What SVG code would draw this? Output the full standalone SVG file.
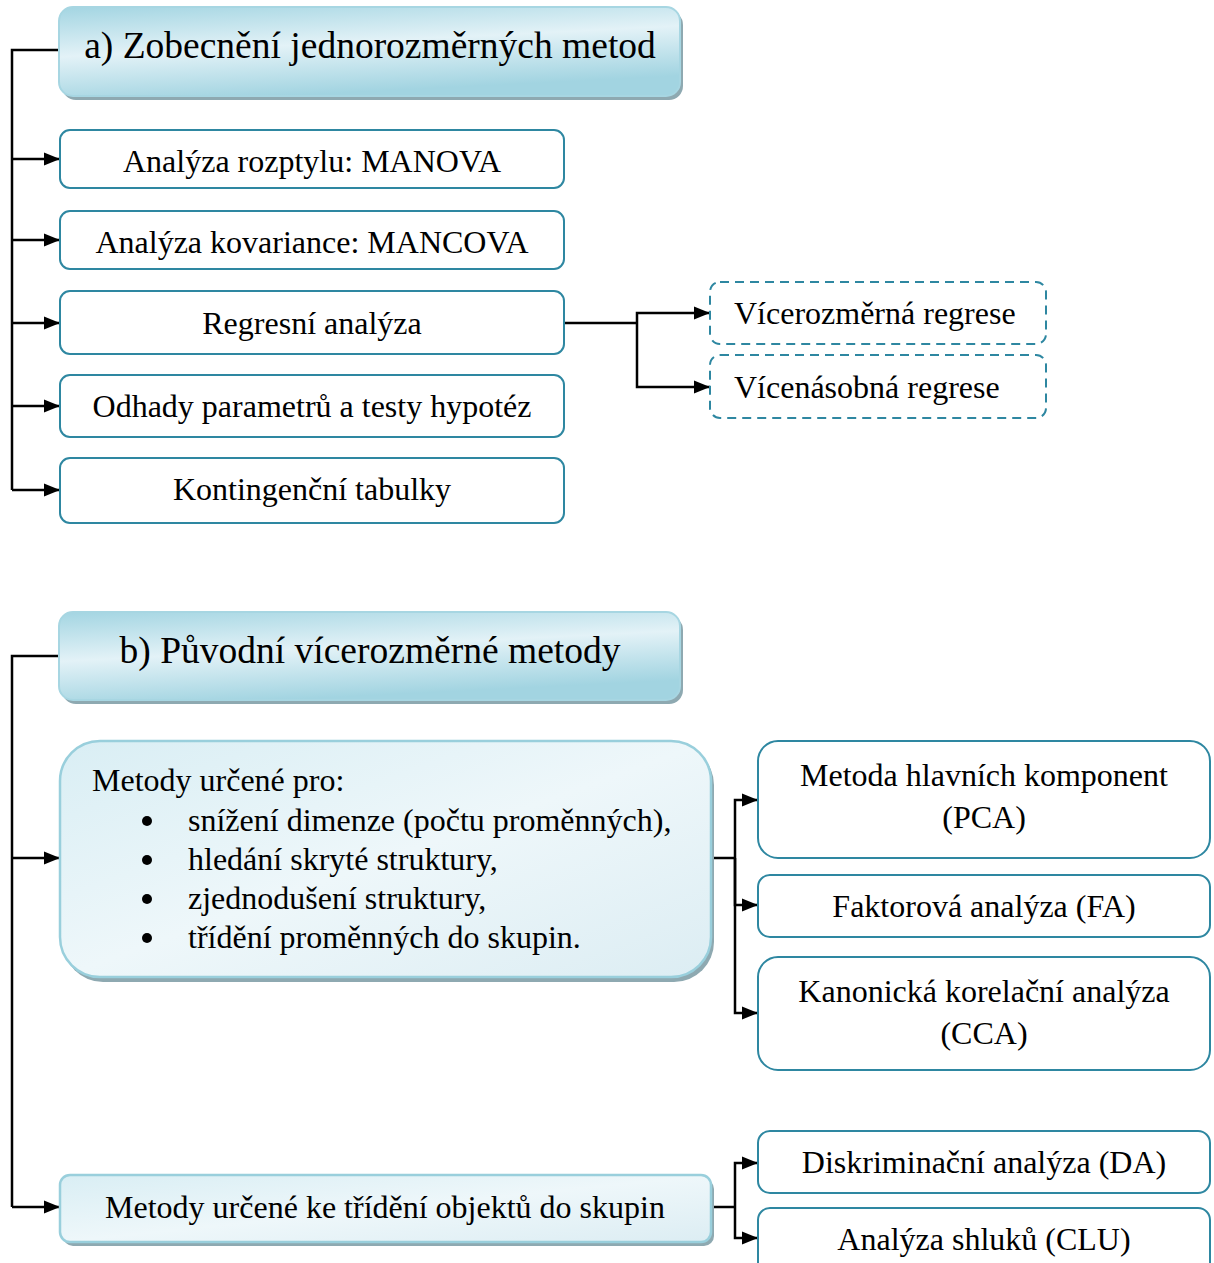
<svg xmlns="http://www.w3.org/2000/svg" width="1214" height="1263" viewBox="0 0 1214 1263">
<defs>
<linearGradient id="hdr" x1="0" y1="0" x2="0.35" y2="1">
<stop offset="0" stop-color="#a3d5e2"/>
<stop offset="0.5" stop-color="#e3f2f7"/>
<stop offset="1" stop-color="#a2d4e1"/>
</linearGradient>
<linearGradient id="lt" x1="0" y1="0" x2="1" y2="1">
<stop offset="0" stop-color="#d9eef4"/>
<stop offset="0.5" stop-color="#eef7fa"/>
<stop offset="1" stop-color="#dcedf3"/>
</linearGradient>
<marker id="ar" markerWidth="16" markerHeight="16" refX="16" refY="8" orient="auto" markerUnits="userSpaceOnUse" viewBox="0 0 16 16">
<path d="M0,1.5 L16,8 L0,14.5 Z" fill="#000"/>
</marker>
</defs>
<style>
text{font-family:"Liberation Serif","Times New Roman",serif;fill:#000}
.h{font-size:37.5px}
.t{font-size:32px}
.hdr{fill:url(#hdr);stroke:#a7d6e2;stroke-width:2}
.sh{fill:#8ea9b1}
.box{fill:#fff;stroke:#2e87a1;stroke-width:2}
.dash{fill:#fff;stroke:#2e87a1;stroke-width:2;stroke-dasharray:9 6}
.lt{fill:url(#lt);stroke:#99cfdc;stroke-width:2.5}
.c{fill:none;stroke:#000;stroke-width:2.5}
.ca{fill:none;stroke:#000;stroke-width:2.5;marker-end:url(#ar)}
</style>
<g id="connectors">
<path class="c" d="M60,50 H12 V490"/>
<path class="ca" d="M12,159 H60"/>
<path class="ca" d="M12,240 H60"/>
<path class="ca" d="M12,323 H60"/>
<path class="ca" d="M12,406 H60"/>
<path class="ca" d="M12,490 H60"/>
<path class="c" d="M564,323 H637"/>
<path class="ca" d="M637,323 V313 H710"/>
<path class="ca" d="M637,323 V387 H710"/>
<path class="c" d="M60,656 H12 V1207"/>
<path class="ca" d="M12,858 H60"/>
<path class="ca" d="M12,1207 H60"/>
<path class="c" d="M711,858 H735"/>
<path class="ca" d="M735,858 V800 H758"/>
<path class="ca" d="M735,858 V905 H758"/>
<path class="ca" d="M735,858 V1013 H758"/>
<path class="c" d="M711,1207 H735"/>
<path class="ca" d="M735,1207 V1163 H758"/>
<path class="ca" d="M735,1207 V1238 H758"/>
</g>
<g id="hdr-a">
<rect class="sh" x="62" y="11" width="621" height="89" rx="14"/>
<rect class="hdr" x="59" y="7" width="621" height="89" rx="14"/>
<text class="h" x="370" y="58" text-anchor="middle">a) Zobecnění jednorozměrných metod</text>
</g>
<g id="n-manova">
<rect class="box" x="60" y="130" width="504" height="58" rx="10"/>
<text class="t" x="312" y="172" text-anchor="middle">Analýza rozptylu: MANOVA</text>
</g>
<g id="n-mancova">
<rect class="box" x="60" y="211" width="504" height="58" rx="10"/>
<text class="t" x="312" y="253" text-anchor="middle">Analýza kovariance: MANCOVA</text>
</g>
<g id="n-regrese">
<rect class="box" x="60" y="291" width="504" height="63" rx="10"/>
<text class="t" x="312" y="334" text-anchor="middle">Regresní analýza</text>
</g>
<g id="n-odhady">
<rect class="box" x="60" y="375" width="504" height="62" rx="10"/>
<text class="t" x="312" y="417" text-anchor="middle">Odhady parametrů a testy hypotéz</text>
</g>
<g id="n-kont">
<rect class="box" x="60" y="458" width="504" height="65" rx="10"/>
<text class="t" x="312" y="500" text-anchor="middle">Kontingenční tabulky</text>
</g>
<g id="n-vicerozm">
<rect class="dash" x="710" y="282" width="336" height="62" rx="10"/>
<text class="t" x="734" y="324">Vícerozměrná regrese</text>
</g>
<g id="n-vicenas">
<rect class="dash" x="710" y="355" width="336" height="63" rx="10"/>
<text class="t" x="734" y="398">Vícenásobná regrese</text>
</g>
<g id="hdr-b">
<rect class="sh" x="62" y="616" width="621" height="88" rx="14"/>
<rect class="hdr" x="59" y="612" width="621" height="88" rx="14"/>
<text class="h" x="370" y="663" text-anchor="middle">b) Původní vícerozměrné metody</text>
</g>
<g id="n-metody-pro">
<rect class="sh" x="63" y="745" width="651" height="237" rx="40"/>
<rect class="lt" x="60" y="741" width="651" height="236" rx="40"/>
<text class="t" x="92" y="791">Metody určené pro:</text>
<circle cx="147" cy="821" r="5"/>
<text class="t" x="188" y="831">snížení dimenze (počtu proměnných),</text>
<circle cx="147" cy="860" r="5"/>
<text class="t" x="188" y="870">hledání skryté struktury,</text>
<circle cx="147" cy="899" r="5"/>
<text class="t" x="188" y="909">zjednodušení struktury,</text>
<circle cx="147" cy="938" r="5"/>
<text class="t" x="188" y="948">třídění proměnných do skupin.</text>
</g>
<g id="n-pca">
<rect class="box" x="758" y="741" width="452" height="117" rx="20"/>
<text class="t" x="984" y="786" text-anchor="middle">Metoda hlavních komponent</text>
<text class="t" x="984" y="828" text-anchor="middle">(PCA)</text>
</g>
<g id="n-fa">
<rect class="box" x="758" y="875" width="452" height="62" rx="12"/>
<text class="t" x="984" y="917" text-anchor="middle">Faktorová analýza (FA)</text>
</g>
<g id="n-cca">
<rect class="box" x="758" y="957" width="452" height="113" rx="20"/>
<text class="t" x="984" y="1002" text-anchor="middle">Kanonická korelační analýza</text>
<text class="t" x="984" y="1044" text-anchor="middle">(CCA)</text>
</g>
<g id="n-objekty">
<rect class="sh" x="63" y="1179" width="651" height="67" rx="10"/>
<rect class="lt" x="60" y="1175" width="651" height="67" rx="10"/>
<text class="t" x="385" y="1218" text-anchor="middle">Metody určené ke třídění objektů do skupin</text>
</g>
<g id="n-da">
<rect class="box" x="758" y="1131" width="452" height="62" rx="12"/>
<text class="t" x="984" y="1173" text-anchor="middle">Diskriminační analýza (DA)</text>
</g>
<g id="n-clu">
<rect class="box" x="758" y="1208" width="452" height="70" rx="12"/>
<text class="t" x="984" y="1250" text-anchor="middle">Analýza shluků (CLU)</text>
</g>
</svg>
